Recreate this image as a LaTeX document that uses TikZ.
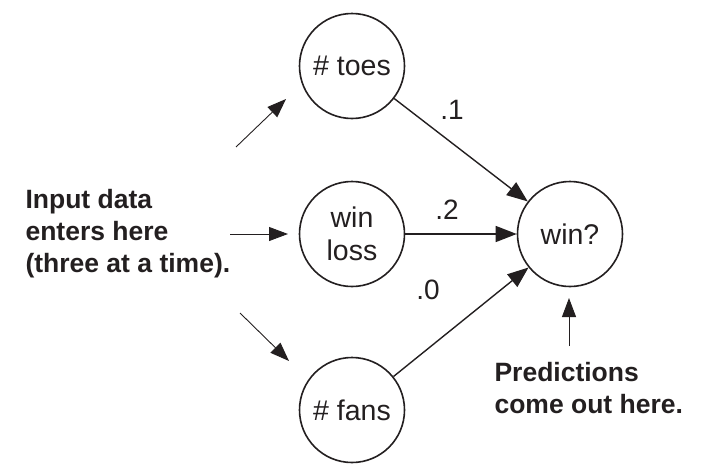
\documentclass[tikz,border=0pt]{standalone}
\usepackage{fontspec}
\setmainfont{Liberation Sans}
\usetikzlibrary{arrows.meta}
\definecolor{ink}{HTML}{231F20}
\begin{document}
\begin{tikzpicture}[x=1pt,y=-1pt,
  neuron/.style={circle,draw=ink,line width=1.6pt,minimum size=105pt,inner sep=0pt,align=center,font=\fontsize{28.5}{33}\selectfont,text=ink},
  conn/.style={draw=ink,line width=1.4pt,-{Triangle[length=21pt,width=16pt]}},
  inarrow/.style={draw=ink,line width=0.9pt,-{Triangle[length=19pt,width=14pt]}},
  wlabel/.style={font=\fontsize{28}{30}\selectfont,text=ink},
  note/.style={font=\fontsize{26.5}{32}\selectfont\bfseries,text=ink,align=left}]
\useasboundingbox (0,0) rectangle (704,466);
\node[neuron] (toes) at (352,66) {\# toes};
\node[neuron] (wl) at (352,234) {win\\loss};
\node[neuron] (fans) at (352,410) {\# fans};
\node[neuron] (win) at (570,234) {win?};
\draw[conn] (toes) -- (win);
\draw[conn] (wl) -- (win);
\draw[conn] (fans) -- (win);
\node[wlabel] (l1) at (452,110) {.1};
\node[wlabel] (l2) at (447,210) {.2};
\node[wlabel] (l3) at (428,290) {.0};
\node[note,anchor=west] (input) at (22,234) {Input data\\enters here\\(three at a time).};
\node[note,anchor=west] (pred) at (491,388) {Predictions\\come out here.};
\coordinate (a1s) at (236,147);
\coordinate (a1e) at (286,99);
\coordinate (a2s) at (230,234);
\coordinate (a2e) at (288,234);
\coordinate (a3s) at (240,313);
\coordinate (a3e) at (289,361);
\coordinate (ps) at (569,346);
\coordinate (pe) at (569,298);
\draw[inarrow] (a1s) -- (a1e);
\draw[inarrow] (a2s) -- (a2e);
\draw[inarrow] (a3s) -- (a3e);
\draw[inarrow] (ps) -- (pe);
\end{tikzpicture}
\end{document}
